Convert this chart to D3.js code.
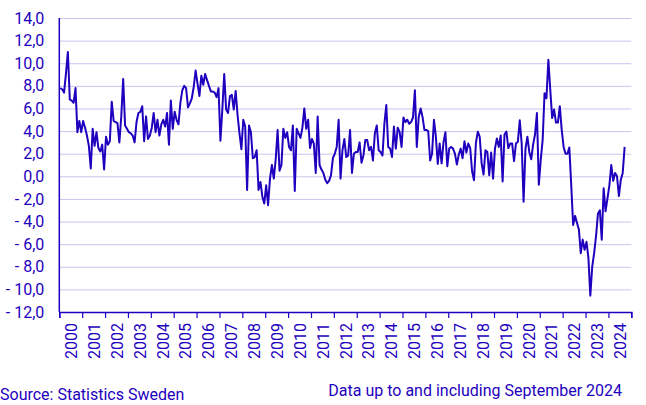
<!DOCTYPE html>
<html>
<head>
<meta charset="utf-8">
<script src="https://cdn.jsdelivr.net/npm/d3@7"></script>
<style>
  html, body { margin: 0; padding: 0; background: #ffffff; }
  svg { display: block; }
  text { font-family: Roboto, "Noto Sans", sans-serif; }
</style>
</head>
<body>
<svg id="chart" width="646" height="405"></svg>
<script>
// ---- data (monthly, Jan 2000 – Sep 2024, percent) ----
const startYear = 2000;
const yearLabels = d3.range(2000, 2025);
const yTicks = [-12, -10, -8, -6, -4, -2, 0, 2, 4, 6, 8, 10, 12, 14];
const values = [
  7.8, 7.7, 7.4, 9.1, 11.0, 6.8, 6.7, 6.5, 7.8, 3.9,
  4.9, 3.9, 4.9, 4.3, 3.6, 2.7, 0.7, 4.2, 2.7, 3.9,
  2.5, 2.2, 2.8, 0.6, 3.5, 2.8, 3.1, 6.6, 4.9, 4.8,
  4.7, 3.0, 5.3, 8.6, 4.5, 4.2, 3.9, 3.8, 3.6, 3.0,
  4.8, 5.6, 5.7, 6.2, 3.1, 5.3, 3.3, 3.6, 4.3, 5.6,
  3.9, 5.0, 3.6, 4.6, 5.0, 4.4, 5.6, 2.8, 6.7, 4.2,
  5.7, 5.0, 4.6, 6.5, 7.6, 8.0, 7.8, 6.1, 6.45, 6.9,
  7.9, 9.35, 8.2, 7.1, 8.9, 8.1, 9.05, 8.5, 8.0, 7.5,
  7.5, 7.4, 7.0, 7.8, 3.15, 5.9, 9.05, 5.9, 5.6, 7.1,
  7.2, 5.9, 7.55, 5.4, 3.8, 2.4, 5.0, 4.4, -1.2, 4.5,
  3.9, 1.6, 1.7, 2.3, -1.2, -0.5, -1.8, -2.4, -0.8, -2.55,
  -0.2, 1.0, -0.2, 1.5, 4.1, 0.5, 1.0, 4.2, 3.4, 3.9,
  2.6, 2.3, 4.5, -1.3, 4.2, 3.8, 3.4, 4.3, 6.0, 4.2,
  5.0, 2.5, 3.3, 2.9, 0.3, 5.3, 1.0, 0.6, 0.3, -0.3,
  -0.6, -0.4, 0.1, 1.6, 2.0, 2.6, 5.0, -0.2, 2.3, 3.3,
  1.7, 1.85, 4.1, 0.3, 2.0, 2.15, 2.15, 3.0, 1.2, 1.85,
  3.2, 3.2, 2.3, 2.6, 1.4, 3.8, 4.5, 2.3, 2.15, 1.85,
  4.65, 6.3, 2.6, 2.45, 1.7, 4.4, 2.45, 4.3, 3.9, 2.6,
  5.2, 4.8, 5.0, 4.65, 4.8, 5.2, 7.6, 2.6, 5.25, 6.0,
  5.25, 4.1, 4.1, 4.0, 1.4, 2.0, 5.0, 3.5, 1.1, 2.9,
  1.15, 3.0, 3.9, 0.9, 2.45, 2.6, 2.45, 2.0, 1.05, 1.9,
  2.45, 1.6, 3.1, 2.1, 2.9, 2.5, 0.45, -0.35, 2.95, 3.95,
  3.5, 1.15, 0.15, 2.3, 2.15, 0.1, 2.1, -0.2, 2.45, 3.35,
  2.6, 3.6, -0.45, 3.7, 3.95, 2.5, 2.9, 2.9, 1.35, 2.9,
  3.05, 4.95, 2.9, -2.25, 2.45, 3.5, 2.15, 1.5, 2.8, 3.7,
  5.6, -0.75, 1.45, 3.2, 7.35, 6.9, 10.3, 7.65, 5.15, 5.9,
  4.75, 4.75, 6.2, 4.1, 2.6, 2.0, 2.0, 2.55, -0.8, -4.3,
  -3.5, -4.1, -4.7, -6.8, -5.6, -6.5, -5.8, -7.2, -10.55, -8.0,
  -6.8, -5.3, -3.3, -3.0, -5.6, -1.05, -3.1, -1.95, -0.8, 1.0,
  -0.4, 0.3, 0.0, -1.75, -0.3, 0.3, 2.6
];
const sourceText = "Source: Statistics Sweden";
const noteText = "Data up to and including September 2024";

// ---- layout ----
const C = "#1e00be";
const GRID = "#c9c5ef";
const FS = "16px";
const plotLeft = 59.3, plotRight = 631.3, plotTop = 18, plotBottom = 312;

const svg = d3.select("#chart");

const x = d3.scaleLinear().domain([startYear, startYear + yearLabels.length]).range([plotLeft, plotRight]);
const y = d3.scaleLinear().domain([-12, 14]).range([plotBottom, plotTop]);

const fmt = d3.format(".1f");
const yFmt = d => (d < 0 ? "- " + fmt(-d) : fmt(d)).replace(".", ",");

// gridlines + y labels
const yAxis = svg.append("g")
  .attr("transform", `translate(${plotLeft},0)`)
  .call(d3.axisLeft(y).tickValues(yTicks).tickSize(-(plotRight - plotLeft)).tickPadding(15).tickFormat(yFmt));
yAxis.select(".domain").remove();
yAxis.selectAll(".tick line").attr("stroke", GRID).attr("stroke-width", 1);
yAxis.selectAll(".tick text")
  .attr("fill", C).attr("font-size", FS)
  .style("font-family", "Roboto, 'Noto Sans', sans-serif");

// left axis line
svg.append("line")
  .attr("x1", plotLeft).attr("x2", plotLeft).attr("y1", plotTop).attr("y2", plotBottom)
  .attr("stroke", C).attr("stroke-width", 1.5);

// bottom axis: ticks at year boundaries
const xAxis = svg.append("g")
  .attr("transform", `translate(0,${plotBottom})`)
  .call(d3.axisBottom(x).tickValues(d3.range(startYear, startYear + yearLabels.length + 1)).tickSize(6).tickFormat(""));
xAxis.select(".domain").attr("stroke", C).attr("stroke-width", 1.5);
xAxis.selectAll(".tick line").attr("stroke", C).attr("stroke-width", 1.2);

// year labels centred in each year, rotated
const xLab = svg.append("g")
  .attr("transform", `translate(0,${plotBottom})`)
  .call(d3.axisBottom(x).tickValues(yearLabels.map(d => d + 0.5)).tickSize(0).tickFormat(d => String(Math.floor(d))));
xLab.select(".domain").remove();
xLab.selectAll(".tick text")
  .attr("fill", C).attr("font-size", FS)
  .style("font-family", "Roboto, 'Noto Sans', sans-serif")
  .attr("transform", "rotate(-90)")
  .attr("text-anchor", "end")
  .attr("x", -11).attr("y", 0).attr("dy", "0.36em");

// data line
const line = d3.line()
  .x((d, i) => x(startYear + (i + 0.5) / 12))
  .y(d => y(d));
svg.append("path")
  .datum(values)
  .attr("fill", "none")
  .attr("stroke", C)
  .attr("stroke-width", 2)
  .attr("stroke-linejoin", "round")
  .attr("d", line);

// footer
svg.append("text").attr("x", 0).attr("y", 399.5)
  .attr("fill", C).attr("font-size", FS).text(sourceText);
svg.append("text").attr("x", 622).attr("y", 395.5)
  .attr("text-anchor", "end")
  .attr("fill", C).attr("font-size", FS).text(noteText);
</script>
</body>
</html>
